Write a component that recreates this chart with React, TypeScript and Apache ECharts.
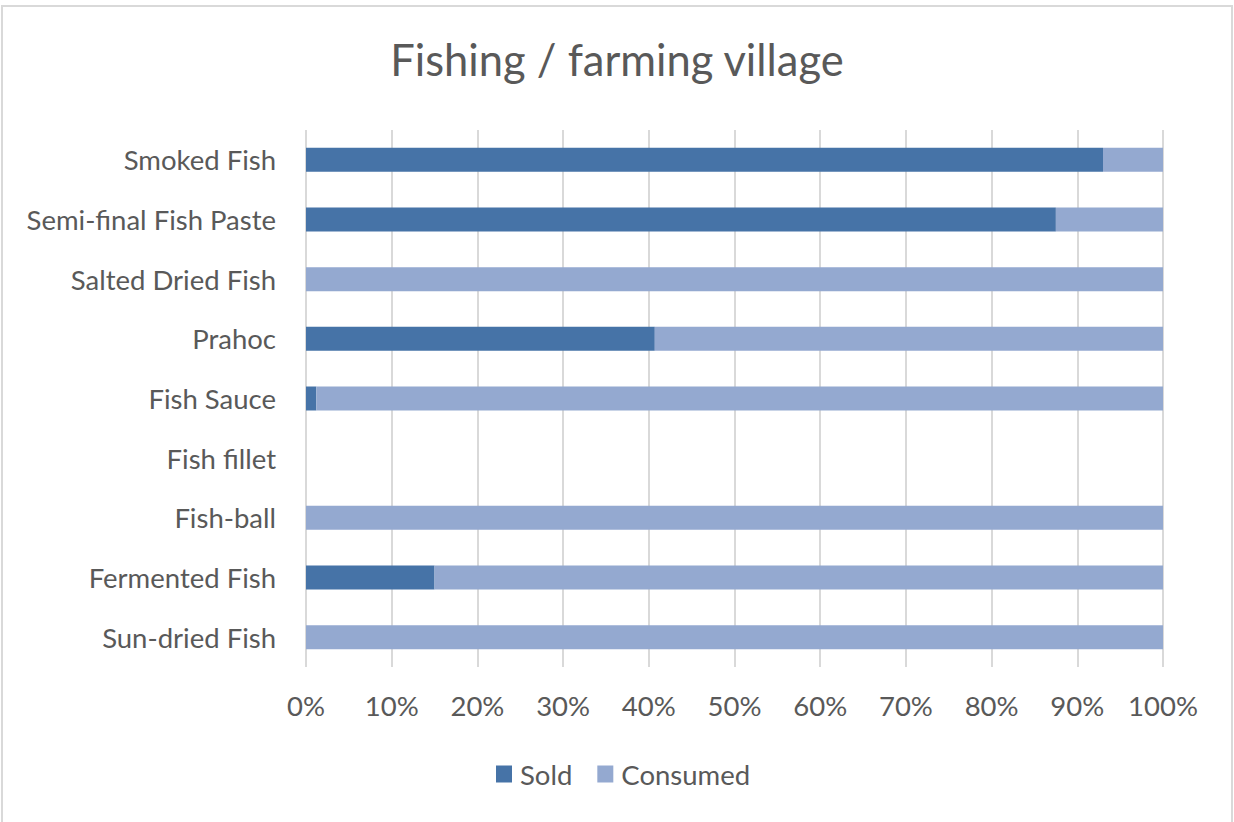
import React, { useEffect, useRef } from "react";
import * as echarts from "echarts";

const titleText = "Fishing / farming village";
const categories = [
  "Smoked Fish",
  "Semi-final Fish Paste",
  "Salted Dried Fish",
  "Prahoc",
  "Fish Sauce",
  "Fish fillet",
  "Fish-ball",
  "Fermented Fish",
  "Sun-dried Fish",
];
const soldValues = [93.0, 87.5, 0, 40.7, 1.2, 0, 0, 15.0, 0];
const consumedValues = [7.0, 12.5, 100, 59.3, 98.8, 0, 100, 85.0, 100];
const xTicks = [0, 10, 20, 30, 40, 50, 60, 70, 80, 90, 100];

const FONT = "Lato, 'Open Sans', sans-serif";
const TEXT = "#595959";

export default function App() {
  const ref = useRef<HTMLDivElement>(null);
  useEffect(() => {
    document.body.style.margin = "0";
    const chart = echarts.init(ref.current!, undefined, { renderer: "svg" });
    chart.setOption({
      animation: false,
      backgroundColor: "#ffffff",
      textStyle: { fontFamily: FONT },
      title: {
        text: titleText,
        left: "center",
        top: 32,
        textStyle: { fontFamily: FONT, fontSize: 43.5, fontWeight: "normal", color: TEXT },
      },
      graphic: [
        {
          type: "rect",
          shape: { x: 2, y: 6, width: 1230, height: 830 },
          style: { fill: "none", stroke: "#d9d9d9", lineWidth: 2 },
          silent: true,
        },
      ],
      legend: {
        data: ["Sold", "Consumed"],
        left: 491,
        top: 755,
        itemWidth: 16,
        itemHeight: 17,
        itemGap: 25,
        icon: "rect",
        textStyle: { fontFamily: FONT, fontSize: 27.5, color: TEXT, padding: [0, 0, 0, 3] },
      },
      grid: { left: 306, right: 71, top: 130, bottom: 155, containLabel: false },
      xAxis: {
        type: "value",
        min: xTicks[0],
        max: xTicks[xTicks.length - 1],
        interval: 10,
        axisLine: { show: false },
        axisTick: { show: false },
        splitLine: { show: true, lineStyle: { color: "#d9d9d9", width: 2 } },
        axisLabel: {
          formatter: "{value}%",
          fontFamily: FONT,
          fontSize: 27.5,
          color: TEXT,
          margin: 24,
        },
      },
      yAxis: {
        type: "category",
        inverse: true,
        data: categories,
        axisLine: { show: false },
        axisTick: { show: false },
        axisLabel: { fontFamily: FONT, fontSize: 27.5, color: TEXT, margin: 30 },
      },
      series: [
        {
          name: "Sold",
          type: "bar",
          stack: "total",
          barWidth: 24,
          itemStyle: { color: "#4673A7" },
          data: soldValues,
        },
        {
          name: "Consumed",
          type: "bar",
          stack: "total",
          barWidth: 24,
          itemStyle: { color: "#94A9D0" },
          data: consumedValues,
        },
      ],
    });
    return () => chart.dispose();
  }, []);
  return <div ref={ref} style={{ width: 1234, height: 822 }} />;
}
